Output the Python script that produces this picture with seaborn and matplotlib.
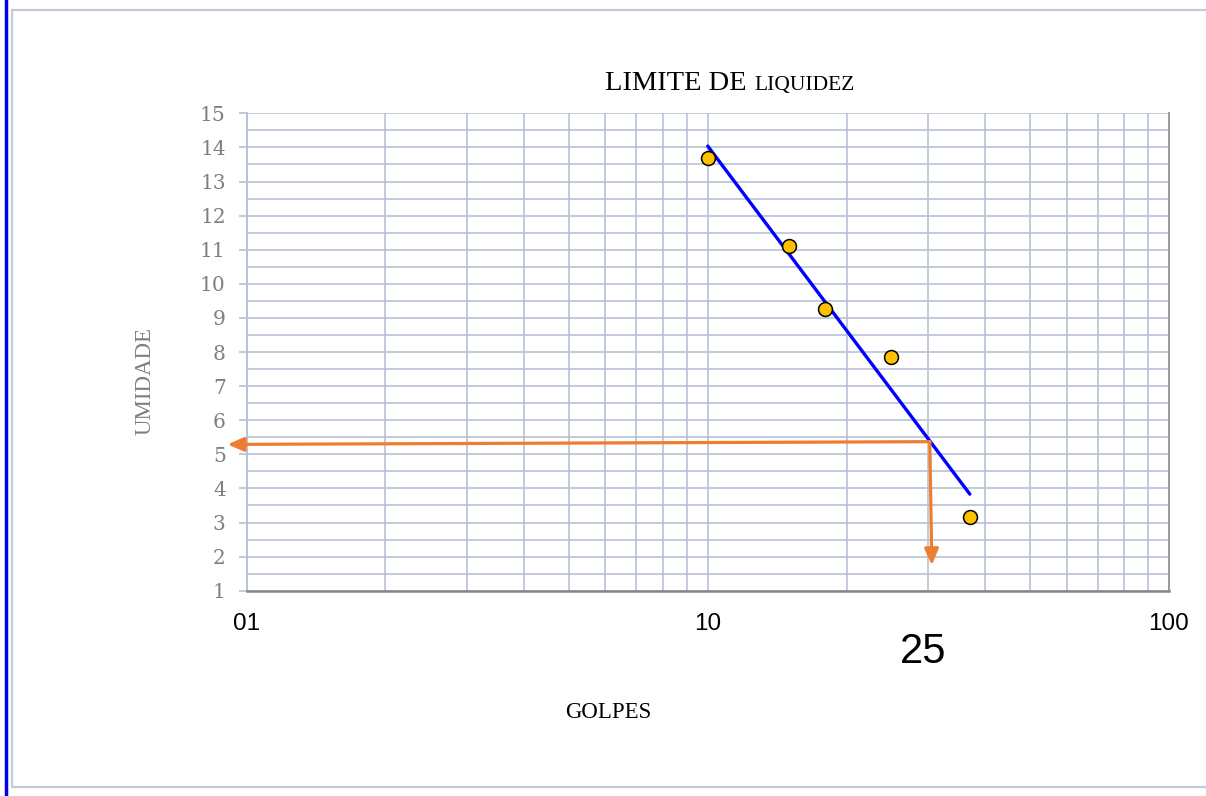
import numpy as np
import pandas as pd
import matplotlib
matplotlib.use("Agg")
import matplotlib.pyplot as plt
from matplotlib.ticker import FixedLocator, FixedFormatter, MultipleLocator, NullFormatter, LogLocator
from matplotlib.lines import Line2D
import seaborn as sns

# ---- data ----
golpes = [10, 15, 18, 25, 37]
umidade = [13.7, 11.1, 9.26, 7.86, 3.17]
x_ticks = [1, 10, 100]
x_tick_labels = ["01", "10", "100"]
y_ticks = list(range(1, 16))
# annotation (liquid limit read-off)
ll_golpes = 30.3
ll_umidade = 5.37
h_arrow_end = (0.91, 5.29)
v_arrow_end = (30.6, 1.75)
ll_label = "25"

df = pd.DataFrame({"golpes": golpes, "umidade": umidade})

sns.set_theme(style="white")
plt.rcParams["font.family"] = ["Liberation Serif", "DejaVu Serif"]

fig = plt.figure(figsize=(12.06, 7.96), dpi=100)
ax = fig.add_axes([246.5 / 1206, 1 - 590.7 / 796, (1169 - 246.5) / 1206, (590.7 - 113.3) / 796])

grid_c = "#b8c2d5"
ax.set_xscale("log")
ax.set_xlim(1, 100)
ax.set_ylim(1, 15)

# grid
ax.xaxis.set_major_locator(FixedLocator(x_ticks))
ax.xaxis.set_major_formatter(FixedFormatter(x_tick_labels))
ax.xaxis.set_minor_locator(LogLocator(base=10, subs=np.arange(2, 10)))
ax.xaxis.set_minor_formatter(NullFormatter())
ax.yaxis.set_major_locator(FixedLocator(y_ticks))
ax.yaxis.set_minor_locator(MultipleLocator(0.5))
ax.grid(True, which="both", color=grid_c, linewidth=1.2, zorder=0)
ax.set_axisbelow(True)

# trendline (log fit) and points via seaborn
sns.regplot(data=df, x="golpes", y="umidade", logx=True, ci=None, scatter=False,
            ax=ax, line_kws=dict(color="#0000FF", linewidth=2.4, zorder=3))
sns.scatterplot(data=df, x="golpes", y="umidade", ax=ax, s=100, color="#FFC000",
                edgecolor="black", linewidth=1.1, zorder=4)

# annotation arrows
arrow_c = "#ED7D31"
for end in (h_arrow_end, v_arrow_end):
    ax.annotate("", xy=end, xytext=(ll_golpes, ll_umidade),
                arrowprops=dict(arrowstyle="-|>,head_length=0.8,head_width=0.35", color=arrow_c, lw=2.3,
                                shrinkA=0, shrinkB=0), annotation_clip=False, zorder=5)

# spines
ax.spines["top"].set_visible(False)
ax.spines["left"].set_color(grid_c)
ax.spines["left"].set_linewidth(1.4)
ax.spines["bottom"].set_color("#868686")
ax.spines["bottom"].set_linewidth(1.8)
ax.spines["right"].set_color("#9a9a9a")
ax.spines["right"].set_linewidth(1.4)

# ticks
ax.tick_params(axis="y", which="major", length=6, width=1.2, color=grid_c, pad=9,
               labelsize=14.5, labelcolor="#7f7f7f", left=True)
ax.tick_params(axis="y", which="minor", length=0)
for lab in ax.get_yticklabels():
    lab.set_family(["DejaVu Serif"])
ax.tick_params(axis="x", which="both", length=0, pad=16, labelsize=17.5, labelcolor="black")
for lab in ax.get_xticklabels():
    lab.set_family(["Liberation Sans", "DejaVu Sans"])
ax.set_xlabel("")
ax.set_ylabel("")

# texts
fig.text(754 / 1206, 1 - 90 / 796, "LIMITE DE ", ha="right", va="baseline", fontsize=20.5, color="black")
fig.text(754 / 1206, 1 - 90 / 796, "LIQUIDEZ", ha="left", va="baseline", fontsize=15.5, color="black")
fig.text(608 / 1206, 1 - 712 / 796, "GOLPES", ha="center", va="center", fontsize=16.5, color="black")
fig.text(145 / 1206, 1 - 381 / 796, "UMIDADE", ha="center", va="center", rotation=90,
         fontsize=16.5, color="#7f7f7f")
fig.text(923 / 1206, 1 - 652 / 796, ll_label, ha="center", va="center", fontsize=30,
         family=["Liberation Sans", "DejaVu Sans"], color="black")

# outer frame
fig.add_artist(Line2D([6 / 1206, 6 / 1206], [0, 1], transform=fig.transFigure, color="#0000EE", linewidth=2.5))
border_c = "#c3cbda"
fig.add_artist(Line2D([12 / 1206, 12 / 1206], [1 - 787 / 796, 1 - 9.5 / 796], transform=fig.transFigure,
                      color=border_c, linewidth=1.6))
fig.add_artist(Line2D([12 / 1206, 1], [1 - 9.5 / 796, 1 - 9.5 / 796], transform=fig.transFigure,
                      color=border_c, linewidth=1.6))
fig.add_artist(Line2D([12 / 1206, 1], [1 - 787 / 796, 1 - 787 / 796], transform=fig.transFigure,
                      color=border_c, linewidth=1.6))

fig.savefig("out.png", dpi=100, facecolor="white")
